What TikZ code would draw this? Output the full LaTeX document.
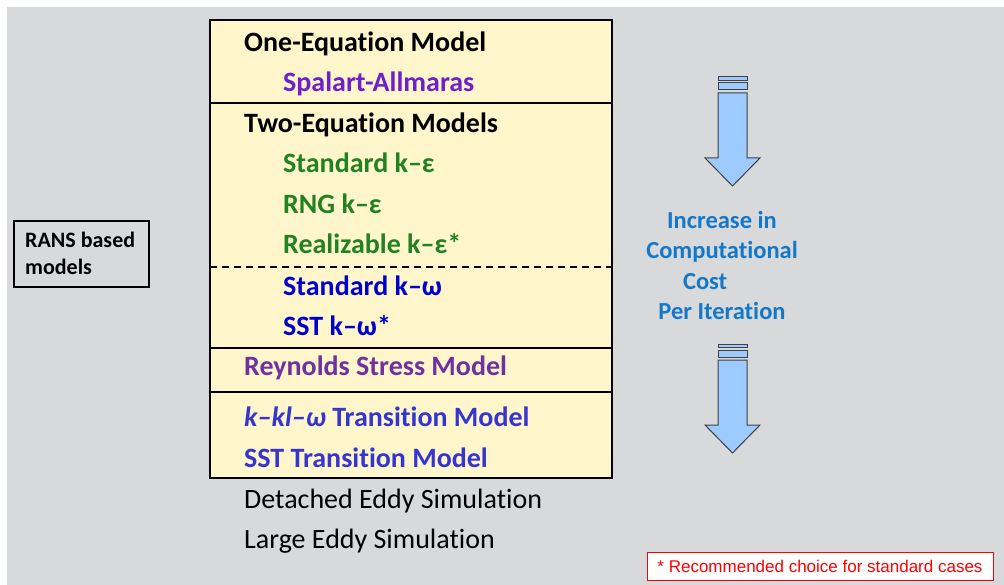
\documentclass[tikz,border=0pt]{standalone}
\usepackage{fontspec}
\setmainfont{Carlito}[Ligatures=NoCommon]
\newfontfamily\notefont{Liberation Sans}
\usepackage{tikz}
\usetikzlibrary{positioning}
\definecolor{bggray}{HTML}{D8D9DB}
\definecolor{boxfill}{HTML}{FFF6CC}
\definecolor{spviolet}{HTML}{7020C8}
\definecolor{rsmpurple}{HTML}{7030A0}
\definecolor{kegreen}{HTML}{228222}
\definecolor{kwblue}{HTML}{0000CC}
\definecolor{trblue}{HTML}{3535D0}
\definecolor{costblue}{HTML}{1478C8}
\definecolor{arrowfill}{HTML}{9DCBFF}
\definecolor{notered}{HTML}{FF0000}
\tikzset{
  item/.style={anchor=mid west, inner sep=0pt, font=\fontsize{28}{32}\selectfont\bfseries},
  subitem/.style={item},
  plainitem/.style={anchor=mid west, inner sep=0pt, font=\fontsize{28}{32}\selectfont},
  costarrow/.style={draw=black!75, fill=arrowfill, line width=1pt},
}

\begin{document}
\begin{tikzpicture}[x=1pt,y=-1pt]
\useasboundingbox (0,0) rectangle (1004,585);
\fill[bggray] (7,7) rectangle (1004,585);
% model table
\draw[line width=2.5pt, fill=boxfill] (210,20) rectangle (612,478);
\draw[line width=1.8pt] (210,103) -- (612,103);
\draw[line width=1.2pt, dashed, dash pattern=on 7pt off 5pt] (210,267) -- (612,267);
\draw[line width=1.8pt] (210,348) -- (612,348);
\draw[line width=1.8pt] (210,392) -- (612,392);
\node[item] (one) at (244,49) {One-Equation Model};
\node[subitem, text=spviolet] (sa) at (283,89) {Spalart-Allmaras};
\node[item] (two) at (244,130) {Two-Equation Models};
\node[subitem, text=kegreen] (ske) at (283,170) {Standard k–ε};
\node[subitem, text=kegreen] (rng) at (283,211) {RNG k–ε};
\node[subitem, text=kegreen] (rke) at (283,251) {Realizable k–ε*};
\node[subitem, text=kwblue] (skw) at (283,293) {Standard k–ω};
\node[subitem, text=kwblue] (sst) at (283,333) {SST k–ω*};
\node[item, text=rsmpurple] (rsm) at (244,373) {Reynolds Stress Model};
\node[item, text=trblue] (kkl) at (244,424) {\textit{k–kl–ω} Transition Model};
\node[item, text=trblue] (sstt) at (244,465) {SST Transition Model};
\node[plainitem] (des) at (244,506) {Detached Eddy Simulation};
\node[plainitem] (les) at (244,546) {Large Eddy Simulation};
% left label
\node[draw, line width=1.8pt, minimum width=135pt, minimum height=66pt, inner sep=0pt] (rans) at (81.5,254) {};
\node[anchor=north west, inner sep=0pt, align=left, font=\fontsize{22}{27}\selectfont\bfseries] (ranstext) at (25,232) {RANS based\\models};
% cost arrows
\foreach \t in {77,344} {
  \draw[costarrow] (718,\t) rectangle (747,\t+3.5);
  \draw[costarrow] (718,\t+6) rectangle (747,\t+13);
  \draw[costarrow] (718,\t+16) -- (747,\t+16) -- (747,\t+81) -- (760,\t+81)
    -- (732.5,\t+109) -- (705,\t+81) -- (718,\t+81) -- cycle;
}
\node[text=costblue, align=center, font=\fontsize{24.5}{30.5}\selectfont\bfseries] (cost) at (722,265.5) {Increase in\\Computational\\Cost\hphantom{xxx}\\Per Iteration};
% note
\node[draw=notered, fill=white, line width=0.8pt, minimum width=346pt, minimum height=28pt, inner sep=0pt,
  text=notered, font=\notefont\fontsize{17}{18}\selectfont] (note) at (820,566) {* Recommended choice for standard cases};
\end{tikzpicture}
\end{document}
